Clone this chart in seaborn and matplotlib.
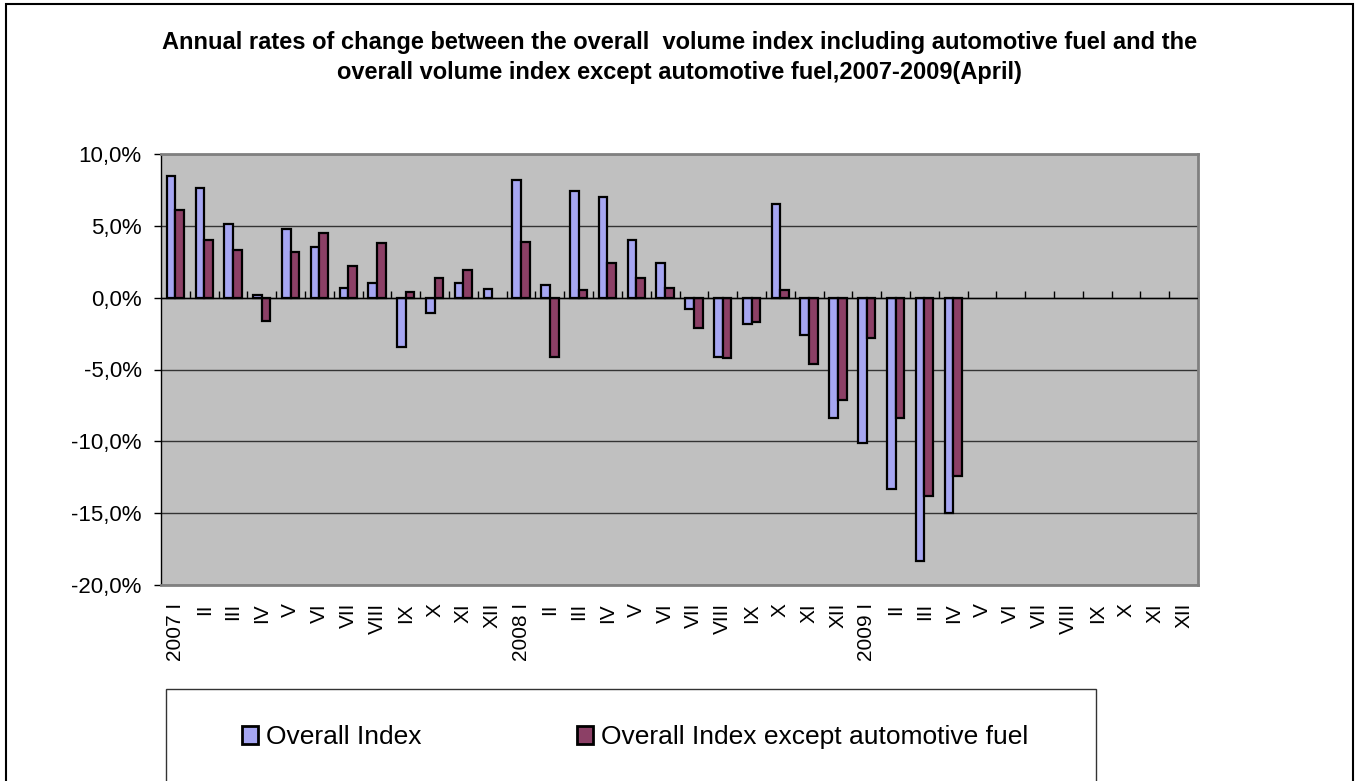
import numpy as np
import pandas as pd
import matplotlib
matplotlib.use("Agg")
import matplotlib.pyplot as plt
from matplotlib.patches import Rectangle
from matplotlib.ticker import FuncFormatter, FixedLocator
import seaborn as sns

# --- data ---
years = [2007] * 12 + [2008] * 12 + [2009] * 12
months = ["I", "II", "III", "IV", "V", "VI", "VII", "VIII", "IX", "X", "XI", "XII"] * 3
overall_index = [8.5, 7.6, 5.1, 0.2, 4.8, 3.5, 0.7, 1.0, -3.4, -1.1, 1.0, 0.6,
                 8.2, 0.9, 7.4, 7.0, 4.0, 2.4, -0.8, -4.1, -1.8, 6.5, -2.6, -8.4,
                 -10.1, -13.3, -18.3, -15.0] + [np.nan] * 8
except_fuel = [6.1, 4.0, 3.3, -1.6, 3.2, 4.5, 2.2, 3.8, 0.4, 1.4, 1.9, np.nan,
               3.9, -4.1, 0.5, 2.4, 1.4, 0.7, -2.1, -4.2, -1.7, 0.5, -4.6, -7.1,
               -2.8, -8.4, -13.8, -12.4] + [np.nan] * 8
series_names = ["Overall Index", "Overall Index except automotive fuel"]
title_lines = ["Annual rates of change between the overall  volume index including automotive fuel and the",
               "overall volume index except automotive fuel,2007-2009(April)"]

keys = [f"{y}-{m}" for y, m in zip(years, months)]
tick_labels = [f"{y} {m}" if m == "I" else m for y, m in zip(years, months)]

df = pd.concat([
    pd.DataFrame({"period": keys, "value": overall_index, "series": series_names[0]}),
    pd.DataFrame({"period": keys, "value": except_fuel, "series": series_names[1]}),
], ignore_index=True)

sns.set_style("white")
plt.rcParams["font.family"] = ["Liberation Sans", "DejaVu Sans"]
plt.rcParams["text.color"] = "black"
plt.rcParams["xtick.color"] = "black"
plt.rcParams["ytick.color"] = "black"

W, H = 1359, 781
fig = plt.figure(figsize=(W / 100, H / 100), dpi=100)
ax = fig.add_axes([161 / W, 1 - 585 / H, (1198 - 161) / W, (585 - 154) / H])
ax.set_facecolor("#C0C0C0")

sns.barplot(data=df, x="period", y="value", hue="series", order=keys,
            hue_order=series_names,
            palette={series_names[0]: "#9999FF", series_names[1]: "#993366"},
            width=0.6, gap=0, errorbar=None, edgecolor="black", linewidth=1.6,
            ax=ax, zorder=3)

handles, labels = ax.get_legend_handles_labels()
if ax.get_legend() is not None:
    ax.get_legend().remove()

# y axis
ymin, ymax = -20, 10
ax.set_ylim(ymin, ymax)
ax.set_xlim(-0.5, len(keys) - 0.5)
ax.yaxis.set_major_locator(FixedLocator(np.arange(-20, 10.1, 5)))
ax.yaxis.set_major_formatter(FuncFormatter(lambda v, p: f"{v:.1f}%".replace(".", ",")))
ax.tick_params(axis="y", direction="out", length=5, width=1, color="black",
               pad=9, labelsize=16, left=True, labelcolor="black")
ax.grid(axis="y", color="#333333", linewidth=1, zorder=1)
ax.set_axisbelow(True)

# x axis labels at the bottom
ax.set_xticks(range(len(keys)))
ax.set_xticklabels(tick_labels, rotation=90, fontsize=15, color="black")
ax.tick_params(axis="x", length=0, pad=13)
ax.set_xlabel("")
ax.set_ylabel("")

for side in ["top", "right", "bottom"]:
    ax.spines[side].set_color("#808080")
    ax.spines[side].set_linewidth(2)
ax.spines["left"].set_color("black")
ax.spines["left"].set_linewidth(1)

# category axis on the zero line with boundary ticks
ax.axhline(0, color="black", linewidth=1, zorder=4)
zero_ax = ax.secondary_xaxis((0 - ymin) / (ymax - ymin))
zero_ax.set_xticks(np.arange(0.5, len(keys), 1))
zero_ax.set_xticklabels([])
zero_ax.tick_params(direction="out", length=5, width=1, color="black")
zero_ax.spines["bottom"].set_visible(False)
zero_ax.spines["top"].set_visible(False)

# title
fig.text(0.5, 1 - 49 / H, title_lines[0], ha="center", va="baseline",
         fontsize=17, fontweight="bold", color="black")
fig.text(0.5, 1 - 79 / H, title_lines[1], ha="center", va="baseline",
         fontsize=17, fontweight="bold", color="black")

# outer frame and legend box (both run off the bottom edge)
fig.patches.append(Rectangle((6 / W, -0.1), (1353 - 6) / W, (H - 4) / H + 0.1,
                             transform=fig.transFigure, fill=False,
                             edgecolor="black", linewidth=1.5))
fig.patches.append(Rectangle((166 / W, -0.1), (1096 - 166) / W, (H - 689) / H + 0.1,
                             transform=fig.transFigure, fill=False,
                             edgecolor="#333333", linewidth=1))

for h in handles:
    h.set_linewidth(2)
fig.legend(handles, labels, loc="center left", bbox_to_anchor=(242 / W, 1 - 737 / H),
           ncol=2, frameon=False, fontsize=19, handlelength=0.6, handleheight=0.65,
           handletextpad=0.3, columnspacing=5.9, borderpad=0, borderaxespad=0,
           labelcolor="black")

fig.savefig("out.png", dpi=100, facecolor="white")
